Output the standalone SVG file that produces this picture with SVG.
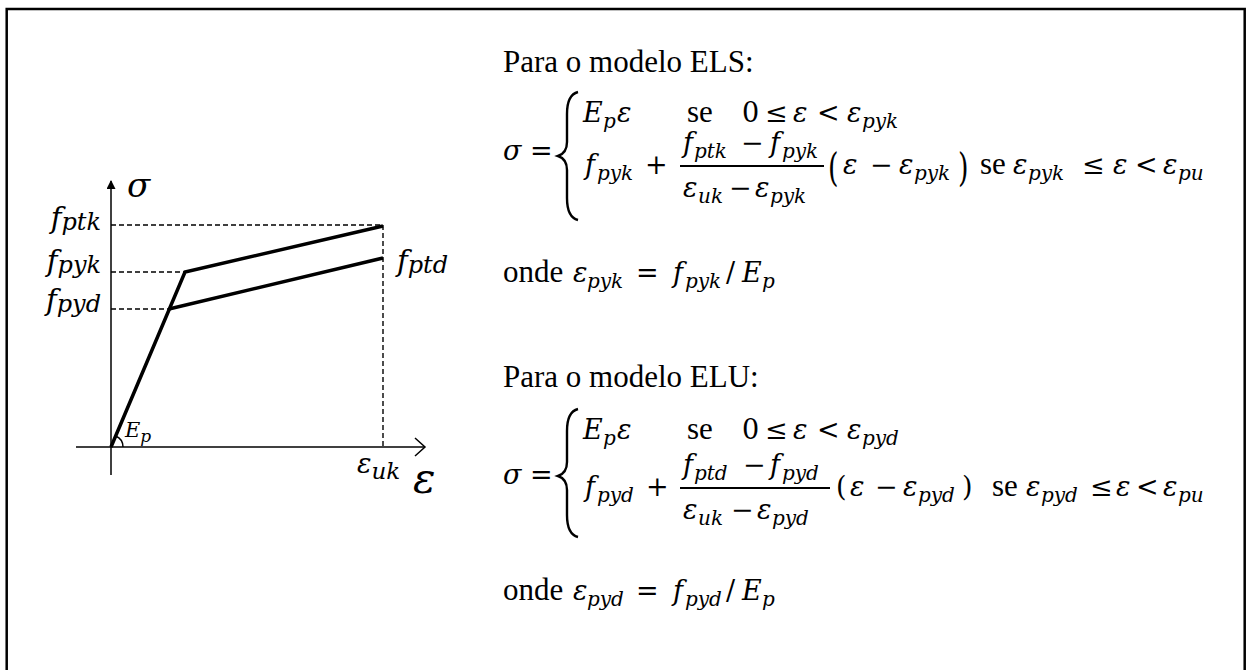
<svg xmlns="http://www.w3.org/2000/svg" width="1246" height="670" viewBox="0 0 1246 670">
<defs>
<style>
.t{font-family:"Liberation Serif","Times New Roman",serif;font-size:31px;fill:#000}
.m{font-family:"DejaVu Serif",serif;font-style:italic;font-size:27px;fill:#000}
.o{font-family:"DejaVu Serif",serif;font-style:normal;font-size:27px;fill:#000}
.s{font-family:"DejaVu Serif",serif;font-style:italic;font-size:20px;fill:#000}
.g{font-family:"DejaVu Serif",serif;font-style:italic;fill:#000}
.thick{stroke:#000;stroke-width:3.5;fill:none;stroke-linejoin:miter}
.dash{stroke:#000;stroke-width:1.4;stroke-dasharray:5 3;fill:none}
.axis{stroke:#000;stroke-width:1.5;fill:none}
.brace{stroke:#000;stroke-width:2.4;fill:none}
.bar{stroke:#000;stroke-width:1.8}
</style>
<marker id="ah" markerWidth="9" markerHeight="11" refX="8" refY="4.5" orient="auto" markerUnits="userSpaceOnUse">
<path d="M0,0 L9,4.5 L0,9 Z" fill="#000"/>
</marker>
</defs>
<rect x="6.7" y="9" width="1238" height="720" fill="none" stroke="#000" stroke-width="2.5"/>

<g id="chart">
<line class="axis" x1="111" y1="475" x2="111" y2="181" marker-end="url(#ah)"/>
<line class="axis" x1="76" y1="447" x2="424" y2="447"/>
<polyline class="axis" points="415,438 425,447 415,456"/>
<line class="dash" x1="111" y1="225" x2="383" y2="225"/>
<line class="dash" x1="111" y1="272" x2="185" y2="272"/>
<line class="dash" x1="111" y1="309" x2="168" y2="309"/>
<line class="dash" x1="383" y1="225" x2="383" y2="447"/>
<polyline class="thick" points="111,447 185,272 383,226"/>
<line class="thick" x1="169" y1="309" x2="383" y2="258"/>
<path class="axis" d="M123,447 A12,12 0 0 0 115.7,436"/>
<text class="g" x="127" y="197" font-size="34">σ</text>
<text class="g" x="101" y="228" font-size="29" text-anchor="end">f<tspan font-size="24" dy="2">ptk</tspan></text>
<text class="g" x="101" y="271" font-size="29" text-anchor="end">f<tspan font-size="24" dy="2">pyk</tspan></text>
<text class="g" x="101" y="310" font-size="29" text-anchor="end">f<tspan font-size="24" dy="2">pyd</tspan></text>
<text class="g" x="397" y="271" font-size="29">f<tspan font-size="24" dy="2">ptd</tspan></text>
<text class="g" x="125" y="437" font-size="21">E<tspan font-size="17" dy="5">p</tspan></text>
<text class="g" x="357" y="473" font-size="27">ε<tspan font-size="23" dy="6">uk</tspan></text>
<text class="g" x="413" y="493" font-size="42">ε</text>
</g>

<g id="els">
<text class="t" x="503" y="72">Para o modelo ELS:</text>
<text class="m" x="503" y="160">σ</text>
<text class="o" x="530" y="160">=</text>
<path class="brace" d="M578,92 C570,94 567,102 567,114 L567,142 C567,150 564,154 558,156 C564,158 567,162 567,170 L567,198 C567,210 570,218 578,220"/>
<text class="m" x="583" y="122">E</text><text class="s" x="603" y="128">p</text><text class="m" x="617" y="122">ε</text>
<text class="t" x="687" y="122">se</text>
<text class="o" x="742" y="122">0</text><text class="o" x="765" y="122">≤</text><text class="m" x="793" y="122">ε</text><text class="o" x="817" y="122">&lt;</text><text class="m" x="847" y="122">ε</text><text class="s" x="862" y="128">pyk</text>
<text class="m" x="585" y="174">f</text><text class="s" x="597" y="180">pyk</text>
<text class="o" x="645" y="174">+</text>
<text class="m" x="683" y="152">f</text><text class="s" x="694" y="158">ptk</text><text class="o" x="741" y="152">−</text><text class="m" x="770" y="152">f</text><text class="s" x="782" y="158">pyk</text>
<line class="bar" x1="680" y1="166" x2="824" y2="166"/>
<text class="m" x="683" y="197">ε</text><text class="s" x="698" y="203">uk</text><text class="o" x="729" y="197">−</text><text class="m" x="755" y="197">ε</text><text class="s" x="770" y="203">pyk</text>
<text class="o" transform="translate(828,181) scale(1,1.45)" x="0" y="0">(</text>
<text class="m" x="843" y="174">ε</text><text class="o" x="870" y="174">−</text><text class="m" x="899" y="174">ε</text><text class="s" x="914" y="180">pyk</text>
<text class="o" transform="translate(958,181) scale(1,1.45)" x="0" y="0">)</text>
<text class="t" x="980" y="174">se</text>
<text class="m" x="1013" y="174">ε</text><text class="s" x="1028" y="180">pyk</text><text class="o" x="1082" y="174">≤</text><text class="m" x="1113" y="174">ε</text><text class="o" x="1135" y="174">&lt;</text><text class="m" x="1163" y="174">ε</text><text class="s" x="1178" y="180">pu</text>
<text class="t" x="503" y="282">onde</text>
<text class="m" x="573" y="282">ε</text><text class="s" x="587" y="288">pyk</text><text class="o" x="636" y="282">=</text><text class="m" x="673" y="282">f</text><text class="s" x="685" y="288">pyk</text><text class="o" x="726" y="282">/</text><text class="m" x="742" y="282">E</text><text class="s" x="762" y="288">p</text>
</g>

<g id="elu">
<text class="t" x="503" y="387">Para o modelo ELU:</text>
<text class="m" x="503" y="484">σ</text>
<text class="o" x="530" y="484">=</text>
<path class="brace" d="M578,409 C570,411 567,419 567,431 L567,462 C567,470 564,474 558,476 C564,478 567,482 567,490 L567,515 C567,527 570,535 578,537"/>
<text class="m" x="583" y="439">E</text><text class="s" x="603" y="445">p</text><text class="m" x="617" y="439">ε</text>
<text class="t" x="687" y="439">se</text>
<text class="o" x="742" y="439">0</text><text class="o" x="765" y="439">≤</text><text class="m" x="793" y="439">ε</text><text class="o" x="817" y="439">&lt;</text><text class="m" x="847" y="439">ε</text><text class="s" x="862" y="445">pyd</text>
<text class="m" x="585" y="496">f</text><text class="s" x="597" y="502">pyd</text>
<text class="o" x="646" y="496">+</text>
<text class="m" x="683" y="474">f</text><text class="s" x="694" y="480">ptd</text><text class="o" x="743" y="474">−</text><text class="m" x="770" y="474">f</text><text class="s" x="782" y="480">pyd</text>
<line class="bar" x1="680" y1="488" x2="830" y2="488"/>
<text class="m" x="683" y="519">ε</text><text class="s" x="698" y="525">uk</text><text class="o" x="731" y="519">−</text><text class="m" x="757" y="519">ε</text><text class="s" x="772" y="525">pyd</text>
<text class="o" x="836" y="496">(</text>
<text class="m" x="850" y="496">ε</text><text class="o" x="875" y="496">−</text><text class="m" x="903" y="496">ε</text><text class="s" x="918" y="502">pyd</text>
<text class="o" x="962" y="496">)</text>
<text class="t" x="992" y="496">se</text>
<text class="m" x="1026" y="496">ε</text><text class="s" x="1041" y="502">pyd</text><text class="o" x="1090" y="496">≤</text><text class="m" x="1116" y="496">ε</text><text class="o" x="1136" y="496">&lt;</text><text class="m" x="1163" y="496">ε</text><text class="s" x="1178" y="502">pu</text>
<text class="t" x="503" y="600">onde</text>
<text class="m" x="573" y="600">ε</text><text class="s" x="587" y="606">pyd</text><text class="o" x="636" y="600">=</text><text class="m" x="673" y="600">f</text><text class="s" x="685" y="606">pyd</text><text class="o" x="726" y="600">/</text><text class="m" x="742" y="600">E</text><text class="s" x="762" y="606">p</text>
</g>
</svg>
